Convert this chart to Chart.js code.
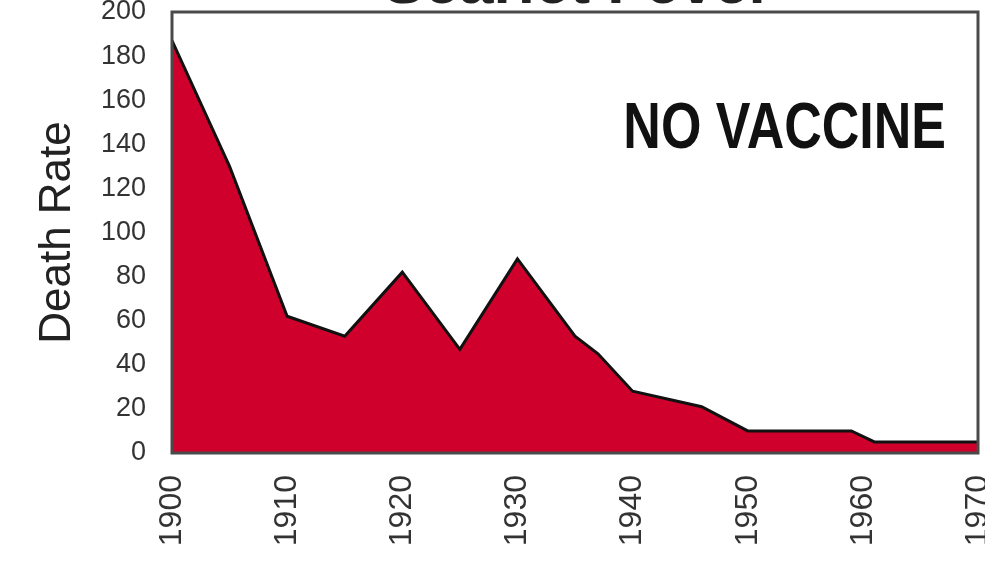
<!DOCTYPE html>
<html>
<head>
<meta charset="utf-8">
<title>Scarlet Fever</title>
<script src="https://cdn.jsdelivr.net/npm/chart.js@4/dist/chart.umd.min.js"></script>
<style>
  html, body { margin: 0; padding: 0; background: #fff; overflow: hidden; }
  #wrap { width: 985px; height: 563px; position: relative; }
</style>
</head>
<body>
<div id="wrap"><canvas id="grafico"></canvas></div>
<script>
// datos
const anios = [1900, 1905, 1910, 1915, 1920, 1925, 1930, 1935, 1937, 1940, 1946, 1950, 1959, 1961, 1970];
const tasaMuerte = [187, 130, 62, 53, 82, 47, 88, 53, 45, 28, 21, 10, 10, 5, 5];
const ticksY = [0, 20, 40, 60, 80, 100, 120, 140, 160, 180, 200];
const ticksX = [1900, 1910, 1920, 1930, 1940, 1950, 1960, 1970];
const titulo = 'Scarlet Fever';
const nota = 'NO VACCINE';

const fuente = '"Liberation Sans", Arial, sans-serif';

const puntos = anios.map((a, i) => ({ x: a, y: tasaMuerte[i] }));

// marco, título cortado y texto "NO VACCINE"
const extras = {
  id: 'extras',
  afterDatasetsDraw(chart) {
    const { ctx, chartArea: ca } = chart;
    ctx.save();
    ctx.strokeStyle = '#4a4a4a';
    ctx.lineWidth = 3;
    ctx.strokeRect(ca.left, ca.top, ca.right - ca.left, ca.bottom - ca.top);

    ctx.fillStyle = '#222';
    ctx.textAlign = 'center';
    ctx.textBaseline = 'alphabetic';
    ctx.font = 'bold 62px ' + fuente;
    ctx.fillText(titulo, (ca.left + ca.right) / 2 + 3, 3);
    ctx.restore();

    ctx.save();
    ctx.fillStyle = '#111';
    ctx.font = 'bold 52px ' + fuente;
    ctx.textAlign = 'left';
    ctx.textBaseline = 'alphabetic';
    ctx.translate(ca.left + (ca.right - ca.left) * 0.56, ca.top + 136);
    ctx.scale(1, 1.25);
    ctx.fillText(nota, 0, 0);
    ctx.restore();
  }
};

const ctx = document.getElementById('grafico').getContext('2d');
const grafico = new Chart(ctx, {
  type: 'line',
  data: {
    datasets: [{
      label: 'Death Rate',
      data: puntos,
      borderColor: '#111',
      borderWidth: 3,
      backgroundColor: '#d0002d',
      fill: 'origin',
      tension: 0,
      pointRadius: 0
    }]
  },
  options: {
    responsive: true,
    maintainAspectRatio: false,
    animation: false,
    layout: { padding: { top: 12, right: 7, left: 0, bottom: 0 } },
    plugins: {
      legend: { display: false },
      tooltip: { enabled: false }
    },
    scales: {
      x: {
        type: 'linear',
        min: 1900,
        max: 1970,
        afterBuildTicks: s => { s.ticks = ticksX.map(v => ({ value: v })); },
        afterFit: s => { s.height = 110; s.paddingLeft = 0; s.paddingRight = 0; },
        grid: { display: false },
        border: { display: false },
        ticks: {
          autoSkip: false,
          minRotation: 90,
          maxRotation: 90,
          padding: 14,
          color: '#333',
          font: { family: fuente, size: 32 },
          callback: v => String(v)
        }
      },
      y: {
        min: 0,
        max: 200,
        afterBuildTicks: s => { s.ticks = ticksY.map(v => ({ value: v })); },
        afterFit: s => { s.width = 172; s.paddingTop = 0; s.paddingBottom = 0; },
        grid: { display: false },
        border: { display: false },
        title: {
          display: true,
          text: 'Death Rate',
          color: '#222',
          padding: { top: 31, bottom: 0 },
          font: { family: fuente, size: 44 }
        },
        ticks: {
          padding: 18,
          color: '#333',
          font: { family: fuente, size: 27 }
        }
      }
    }
  },
  plugins: [extras]
});
</script>
</body>
</html>
